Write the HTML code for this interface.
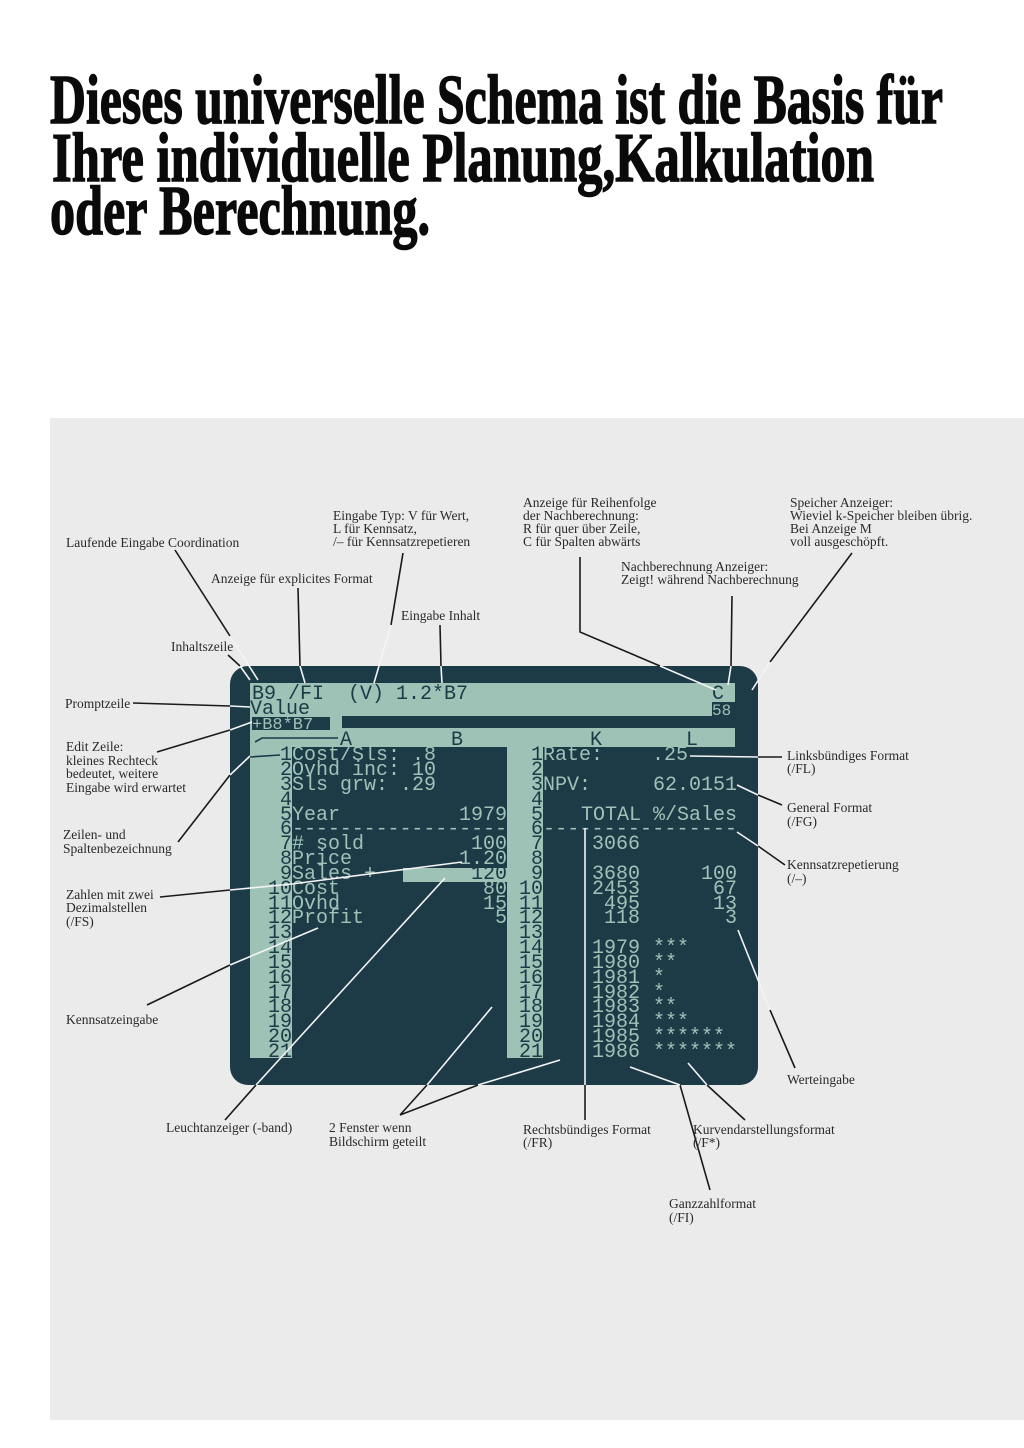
<!DOCTYPE html>
<html><head><meta charset="utf-8"><style>
html,body{margin:0;padding:0;background:#fff}
svg{display:block}
.t{font-family:"Liberation Serif",serif;font-weight:bold;font-size:70px;fill:#0a0a0a;stroke:#0a0a0a;stroke-width:1.5}
.l{font-family:"Liberation Serif",serif;font-size:13.5px;fill:#2a2a2a}
.m{font-family:"Liberation Mono",monospace;font-size:20px}
.lt{fill:#9fc2b7}.dk{fill:#1d3a47}
</style></head><body>
<svg width="1024" height="1448" viewBox="0 0 1024 1448" xmlns="http://www.w3.org/2000/svg">
<rect width="1024" height="1448" fill="#fff"/>
<text class="t" x="50" y="123" textLength="893" lengthAdjust="spacingAndGlyphs">Dieses universelle Schema ist die Basis für</text>
<text class="t" x="52" y="181" textLength="822" lengthAdjust="spacingAndGlyphs">Ihre individuelle Planung,Kalkulation</text>
<text class="t" x="50" y="234" textLength="380" lengthAdjust="spacingAndGlyphs">oder Berechnung.</text>

<rect x="50" y="418" width="974" height="1002" fill="#ebebeb"/>

<!-- screen -->
<rect x="230" y="666" width="528" height="419" rx="18" fill="#1d3a47"/>
<rect x="250" y="683" width="485" height="64" fill="#9fc2b7"/>
<rect x="712" y="702" width="23" height="16" fill="#1d3a47"/>
<rect x="342" y="716" width="393" height="12" fill="#1d3a47"/>
<rect x="252" y="717" width="78" height="13" fill="#1d3a47"/>
<rect x="250" y="747" width="42" height="311" fill="#9fc2b7"/>
<rect x="507" y="747" width="36" height="311" fill="#9fc2b7"/>
<rect x="403" y="868" width="104" height="14" fill="#9fc2b7"/>

<g class="m">
<text class="dk" x="252" y="699" xml:space="preserve">B9 /FI  (V) 1.2*B7</text>
<text class="dk" x="250" y="714">Value</text>
<text class="dk" x="712" y="699">C</text>
<text class="lt" x="712" y="715" font-size="16">58</text>
<text class="lt" x="252" y="729" font-size="17">+B8*B7</text>
<text class="dk" x="340" y="745">A</text>
<text class="dk" x="451" y="745">B</text>
<text class="dk" x="590" y="745">K</text>
<text class="dk" x="686" y="745">L</text>
<g class="dk" text-anchor="end">
<text x="292" y="760">1</text><text x="292" y="775">2</text><text x="292" y="790">3</text><text x="292" y="805">4</text><text x="292" y="820">5</text><text x="292" y="834">6</text><text x="292" y="849">7</text><text x="292" y="864">8</text><text x="292" y="879">9</text><text x="292" y="894">10</text><text x="292" y="909">11</text><text x="292" y="923">12</text><text x="292" y="938">13</text><text x="292" y="953">14</text><text x="292" y="968">15</text><text x="292" y="983">16</text><text x="292" y="998">17</text><text x="292" y="1012">18</text><text x="292" y="1027">19</text><text x="292" y="1042">20</text><text x="292" y="1057">21</text>
<text x="543" y="760">1</text><text x="543" y="775">2</text><text x="543" y="790">3</text><text x="543" y="805">4</text><text x="543" y="820">5</text><text x="543" y="834">6</text><text x="543" y="849">7</text><text x="543" y="864">8</text><text x="543" y="879">9</text><text x="543" y="894">10</text><text x="543" y="909">11</text><text x="543" y="923">12</text><text x="543" y="938">13</text><text x="543" y="953">14</text><text x="543" y="968">15</text><text x="543" y="983">16</text><text x="543" y="998">17</text><text x="543" y="1012">18</text><text x="543" y="1027">19</text><text x="543" y="1042">20</text><text x="543" y="1057">21</text>
<text x="507" y="879">120</text>
</g>
<g class="lt" xml:space="preserve">
<text x="292" y="760">Cost/Sls: .8</text>
<text x="292" y="775">Ovhd  inc: 10</text>
<text x="292" y="790"> Sls grw: .29</text>
<text x="292" y="820">Year</text>
<text x="292" y="834" textLength="215">------------------</text>
<text x="292" y="849"># sold</text>
<text x="292" y="864">Price</text>
<text x="292" y="879">Sales +</text>
<text x="292" y="894">Cost</text>
<text x="292" y="909">Ovhd</text>
<text x="292" y="923">Profit</text>
<text x="543" y="760">Rate:</text>
<text x="543" y="790">NPV:</text>
<text x="543" y="834" textLength="194">----------------</text>
<text x="653" y="953">***</text><text x="653" y="968">**</text><text x="653" y="983">*</text><text x="653" y="998">*</text><text x="653" y="1012">**</text><text x="653" y="1027">***</text><text x="653" y="1042">******</text><text x="653" y="1057">*******</text>
</g>
<g class="lt" text-anchor="end">
<text x="507" y="820">1979</text><text x="507" y="849">100</text><text x="507" y="864">1.20</text><text x="507" y="894">80</text><text x="507" y="909">15</text><text x="507" y="923">5</text>
<text x="688" y="760">.25</text><text x="737" y="790">62.0151</text><text x="737" y="820" xml:space="preserve">TOTAL %/Sales</text>
<text x="640" y="849">3066</text><text x="640" y="879">3680</text><text x="640" y="894">2453</text><text x="640" y="909">495</text><text x="640" y="923">118</text>
<text x="737" y="879">100</text><text x="737" y="894">67</text><text x="737" y="909">13</text><text x="737" y="923">3</text>
<text x="640" y="953">1979</text><text x="640" y="968">1980</text><text x="640" y="983">1981</text><text x="640" y="998">1982</text><text x="640" y="1012">1983</text><text x="640" y="1027">1984</text><text x="640" y="1042">1985</text><text x="640" y="1057">1986</text>
</g>
</g>

<!-- leader lines -->
<g stroke="#1a1a1a" stroke-width="1.6" fill="none">
<path d="M175 550 L230 636"/><path d="M228 655 L240 666"/>
<path d="M298 588 L300 666"/><path d="M403 553 L391 625"/>
<path d="M440 625 L441 666"/><path d="M580 557 L580 632 L660 666"/>
<path d="M732 596 L731 666"/><path d="M852 553 L770 662"/>
<path d="M133 703 L230 706"/><path d="M157 752 L230 730"/>
<path d="M178 842 L230 775"/><path d="M160 897 L230 890"/>
<path d="M147 1005 L230 965"/><path d="M225 1120 L256 1085"/>
<path d="M400 1115 L427 1085 M400 1115 L478 1085"/>
<path d="M585 1085 L585 1120"/><path d="M680 1085 L710 1190"/>
<path d="M707 1085 L745 1120"/><path d="M770 1010 L795 1068"/>
<path d="M758 757 L782 757"/><path d="M758 795 L782 805"/><path d="M758 846 L785 865"/>
</g>
<g stroke="#f4f4f4" stroke-width="1.6" fill="none">
<path d="M230 636 L258 680"/><path d="M240 666 L250 680"/>
<path d="M300 666 L305 683"/><path d="M391 625 L374 683"/>
<path d="M441 666 L442 683"/><path d="M660 666 L716 690"/>
<path d="M731 666 L728 685"/><path d="M770 662 L752 690"/>
<path d="M230 706 L250 707"/><path d="M230 730 L252 722"/>
<path d="M230 775 L250 756"/><path d="M230 890 L292 884 L462 862"/>
<path d="M230 965 L318 928"/><path d="M256 1085 L445 878"/>
<path d="M427 1085 L492 1007 M478 1085 L560 1060"/>
<path d="M585 828 L585 1085"/><path d="M630 1067 L680 1085"/>
<path d="M688 1063 L707 1085"/><path d="M738 930 L770 1010"/>
<path d="M690 756 L758 757"/><path d="M737 785 L758 795"/><path d="M737 832 L758 846"/>
</g>
<g stroke="#1d3a47" stroke-width="1.6" fill="none">
<path d="M255 742 L262 738 L338 738"/><path d="M250 757 L280 755"/>
</g>

<!-- labels -->
<g class="l">
<text x="66" y="547">Laufende Eingabe Coordination</text>
<text x="211" y="583">Anzeige für explicites Format</text>
<text x="333" y="520">Eingabe Typ: V für Wert,</text>
<text x="333" y="533">L für Kennsatz,</text>
<text x="333" y="546">/– für Kennsatzrepetieren</text>
<text x="401" y="620">Eingabe Inhalt</text>
<text x="171" y="651">Inhaltszeile</text>
<text x="523" y="507">Anzeige für Reihenfolge</text>
<text x="523" y="520">der Nachberechnung:</text>
<text x="523" y="533">R für quer über Zeile,</text>
<text x="523" y="546">C für Spalten abwärts</text>
<text x="621" y="571">Nachberechnung Anzeiger:</text>
<text x="621" y="584">Zeigt! während Nachberechnung</text>
<text x="790" y="507">Speicher Anzeiger:</text>
<text x="790" y="520">Wieviel k-Speicher bleiben übrig.</text>
<text x="790" y="533">Bei Anzeige M</text>
<text x="790" y="546">voll ausgeschöpft.</text>
<text x="65" y="708">Promptzeile</text>
<text x="66" y="751">Edit Zeile:</text>
<text x="66" y="765">kleines Rechteck</text>
<text x="66" y="778">bedeutet, weitere</text>
<text x="66" y="792">Eingabe wird erwartet</text>
<text x="63" y="839">Zeilen- und</text>
<text x="63" y="853">Spaltenbezeichnung</text>
<text x="66" y="899">Zahlen mit zwei</text>
<text x="66" y="912">Dezimalstellen</text>
<text x="66" y="926">(/FS)</text>
<text x="66" y="1024">Kennsatzeingabe</text>
<text x="166" y="1132">Leuchtanzeiger (-band)</text>
<text x="329" y="1132">2 Fenster wenn</text>
<text x="329" y="1146">Bildschirm geteilt</text>
<text x="523" y="1134">Rechtsbündiges Format</text>
<text x="523" y="1147">(/FR)</text>
<text x="693" y="1134">Kurvendarstellungsformat</text>
<text x="693" y="1147">(/F*)</text>
<text x="669" y="1208">Ganzzahlformat</text>
<text x="669" y="1222">(/FI)</text>
<text x="787" y="1084">Werteingabe</text>
<text x="787" y="760">Linksbündiges Format</text>
<text x="787" y="773">(/FL)</text>
<text x="787" y="812">General Format</text>
<text x="787" y="826">(/FG)</text>
<text x="787" y="869">Kennsatzrepetierung</text>
<text x="787" y="883">(/–)</text>
</g>
</svg>
</body></html>
